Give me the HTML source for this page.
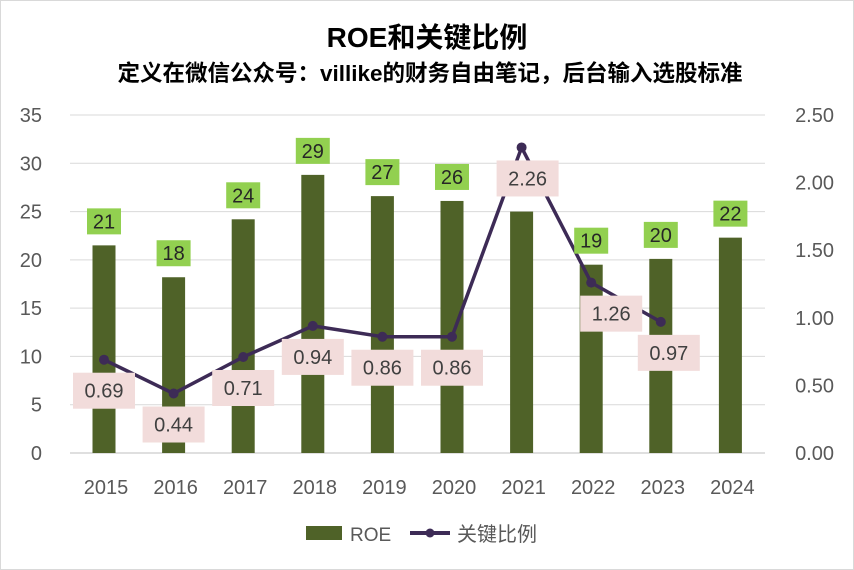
<!DOCTYPE html>
<html><head><meta charset="utf-8"><style>
body{margin:0;background:#fff;}
svg{display:block;font-family:"Liberation Sans","Noto Sans CJK SC",sans-serif;}
</style></head><body>
<svg id="chart" width="854" height="570">
<rect x="0.5" y="0.5" width="853" height="569" fill="#fff" stroke="#d9d9d9"/>
<text x="427" y="47" text-anchor="middle" font-size="28" font-weight="bold" fill="#000">ROE和关键比例</text>
<text x="430" y="81" text-anchor="middle" font-size="22.5" font-weight="bold" fill="#000">定义在微信公众号：villike的财务自由笔记，后台输入选股标准</text>
<g id="grid"></g><g id="bars"></g><g id="line"></g><g id="labels"></g><g id="axes"></g>
<g>
<rect x="306" y="526" width="36" height="14" fill="#4f6228"/>
<text x="350" y="541" font-size="19" fill="#595959">ROE</text>
<line x1="410" y1="533" x2="450" y2="533" stroke="#3d2b56" stroke-width="4"/>
<circle cx="430" cy="533" r="4.5" fill="#3d2b56"/>
<text x="457" y="541" font-size="20" fill="#595959">关键比例</text>
</g>
</svg>
<script>
const categories=["2015","2016","2017","2018","2019","2020","2021","2022","2023","2024"];
const roeValues=[21.5,18.2,24.2,28.8,26.6,26.1,25.0,19.5,20.1,22.3];
const roeLabels=["21","18","24","29","27","26","25","19","20","22"];
const ratioValues=[0.69,0.44,0.71,0.94,0.86,0.86,2.26,1.26,0.97,null];
const leftTicks=[0,5,10,15,20,25,30,35];
const rightTicks=[0,0.5,1.0,1.5,2.0,2.5];
const NS="http://www.w3.org/2000/svg";
const y0=453,y1=115;
const yL=v=>y0-(v/35)*(y0-y1);
const yR=v=>y0-(v/2.5)*(y0-y1);
const xC=i=>104+i*69.6;
function mk(tag,attrs,parent,text){const e=document.createElementNS(NS,tag);for(const k in attrs)e.setAttribute(k,attrs[k]);if(text!=null)e.textContent=text;document.getElementById(parent).appendChild(e);return e;}
leftTicks.forEach(t=>{
 const g=mk("line",{x1:70,x2:765,y1:yL(t),y2:yL(t),stroke:t===0?"#bfbfbf":"#d9d9d9","stroke-width":1},"grid");
 
 
 const l=mk("text",{x:42,y:yL(t)+7,"text-anchor":"end","font-size":20,fill:"#595959"},"axes",String(t));
 
 
});
rightTicks.forEach(t=>{
 const l=mk("text",{x:834,y:yR(t)+7,"text-anchor":"end","font-size":20,fill:"#595959"},"axes",t.toFixed(2));
 
 
});
categories.forEach((c,i)=>{
 const l=mk("text",{x:xC(i)+2,y:494,"text-anchor":"middle","font-size":20,fill:"#595959"},"axes",c);
 
 
});
roeValues.forEach((v,i)=>{
 const b=mk("rect",{x:xC(i)-11.5,y:yL(v),width:23,height:y0-yL(v),fill:"#4f6228"},"bars");
 
 
});
let pts=[];
ratioValues.forEach((v,i)=>{if(v!=null)pts.push([xC(i),yR(v)]);});
const pl=mk("polyline",{points:pts.map(p=>p.join(",")).join(" "),fill:"none",stroke:"#3d2b56","stroke-width":3.5,"stroke-linejoin":"round"},"line");


ratioValues.forEach((v,i)=>{if(v==null)return;
 const c=mk("circle",{cx:xC(i),cy:yR(v),r:5,fill:"#3d2b56"},"line");
 
 
});
roeValues.forEach((v,i)=>{
 if(i===6)return;
 const cy=yL(v)-24;
 const r=mk("rect",{x:xC(i)-17,y:cy-13,width:34,height:26,fill:"#92d050"},"labels");
 
 
 const t=mk("text",{x:xC(i),y:cy+7,"text-anchor":"middle","font-size":20,fill:"#262626"},"labels",roeLabels[i]);
 
 
});
const lblShift=[0,0,0,0,0,0,6,20,8,0];
ratioValues.forEach((v,i)=>{if(v==null)return;
 const cx=xC(i)+lblShift[i], cy=yR(v)+31;
 const r=mk("rect",{x:cx-31,y:cy-18,width:62,height:36,fill:"#f2dcdb"},"labels");
 
 
 const t=mk("text",{x:cx,y:cy+7,"text-anchor":"middle","font-size":20,fill:"#404040"},"labels",v.toFixed(2));
 
 
});
</script>
</body></html>
